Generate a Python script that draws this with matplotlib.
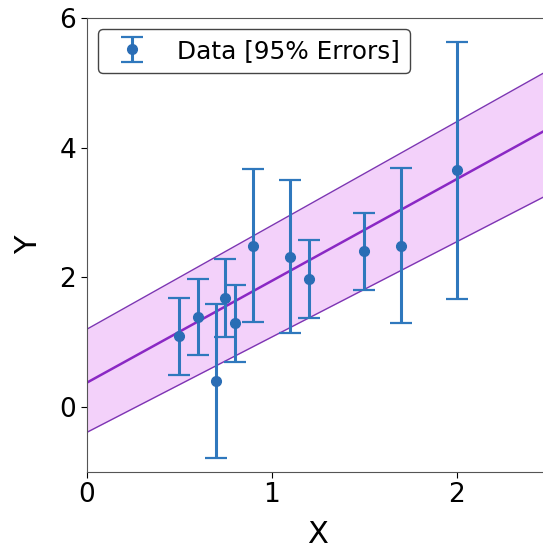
import numpy as np
import matplotlib
matplotlib.use("Agg")
import matplotlib.pyplot as plt

# Data
x_data = [0.5, 0.6, 0.7, 0.75, 0.8, 0.9, 1.1, 1.2, 1.5, 1.7, 2.0]
y_data = [1.09, 1.39, 0.40, 1.68, 1.29, 2.49, 2.32, 1.97, 2.40, 2.49, 3.65]
y_err = [0.59, 0.59, 1.19, 0.60, 0.60, 1.18, 1.18, 0.60, 0.60, 1.19, 1.98]

# Fit line and band (intercept, slope)
fit_params = [0.376, 1.57]
upper_params = [1.20, 1.60]
lower_params = [-0.39, 1.47]

x_range = [0.0, 2.5]
y_range = [-1.0, 6.0]
x_ticks = [0, 1, 2]
y_ticks = [0, 2, 4, 6]

fig = plt.figure(figsize=(5.43, 5.51), dpi=100)
ax = fig.add_axes([0.1597, 0.1434, 0.8517, 0.8239])

xs = np.linspace(x_range[0], x_range[1], 200)
fit = fit_params[0] + fit_params[1] * xs
upper = upper_params[0] + upper_params[1] * xs
lower = lower_params[0] + lower_params[1] * xs

ax.fill_between(xs, lower, upper, color='#f3d1fa', linewidth=0)
ax.plot(xs, upper, color='#7d35b3', lw=1.0)
ax.plot(xs, lower, color='#7d35b3', lw=1.0)
ax.plot(xs, fit, color='#8a28c4', lw=1.8)

ax.errorbar(x_data, y_data, yerr=y_err, fmt='o', color='#2a6db5', ecolor='#2f78bd',
            elinewidth=2.2, capsize=8, capthick=1.6, markersize=7,
            label='Data [95% Errors]', zorder=5)

ax.set_xlim(*x_range)
ax.set_ylim(*y_range)
ax.set_xticks(x_ticks)
ax.set_yticks(y_ticks)
ax.tick_params(labelsize=19, length=4)
ax.set_xlabel('X', fontsize=22, labelpad=8)
ax.set_ylabel('Y', fontsize=22, labelpad=12)
leg = ax.legend(loc='upper left', fontsize=17.8, framealpha=1, edgecolor='#444444',
                fancybox=True, handletextpad=0.8, borderaxespad=0.45)
for sp in ax.spines.values():
    sp.set_color('#555555')

fig.savefig('out.png', dpi=100)
